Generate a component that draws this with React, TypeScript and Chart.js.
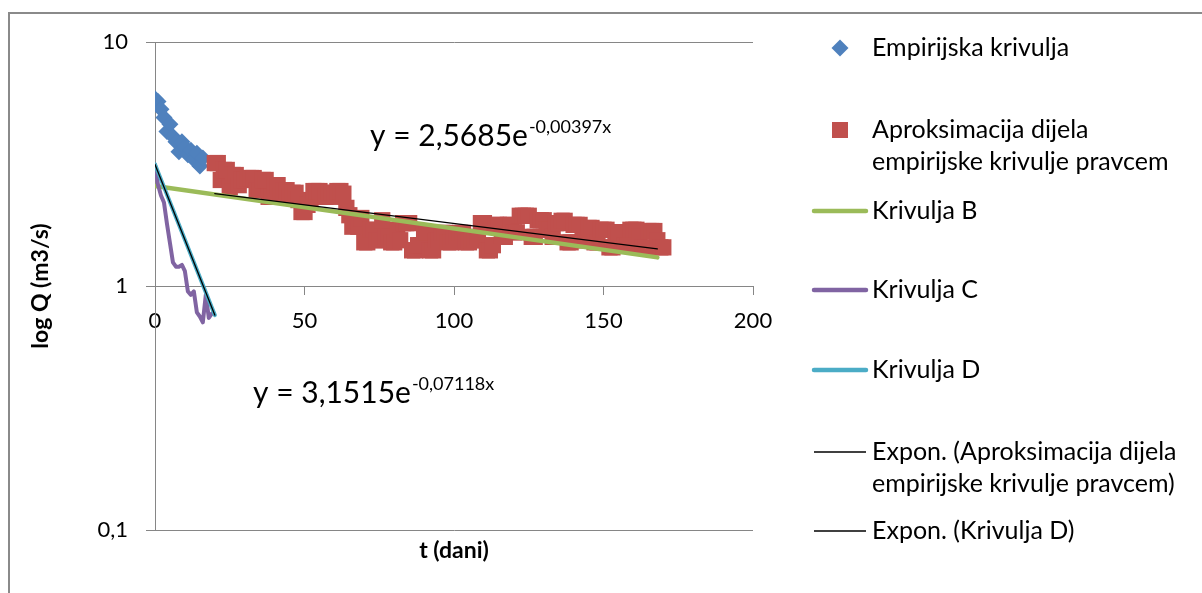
import React, { useEffect, useRef } from "react";
import { Chart, registerables } from "chart.js";

Chart.register(...registerables);

const FONT = "Lato, 'Open Sans', sans-serif";

// ---- data ----
const EMP_T = [0, 1, 2, 3, 4, 5, 6, 7, 8, 9, 10, 11, 12, 13, 14, 15, 16];
const EMP_Q = [5.85, 5.7, 5.3, 4.9, 4.3, 4.6, 4.1, 3.9, 3.55, 3.9, 3.7, 3.45, 3.6, 3.3, 3.5, 3.1, 3.35];

const RED_START = 20;
const RED_Q = [
  3.19, 3.19, 2.72, 2.99, 2.99, 2.54, 2.85, 2.85, 2.59, 2.72, 2.72,
  2.77, 2.77, 2.77, 2.47, 2.47, 2.72, 2.72, 2.32, 2.32, 2.59, 2.59, 2.32, 2.47, 2.47, 2.32,
  2.41, 2.41, 2.25, 2.01, 2.01, 2.15, 2.25,
  2.45, 2.45, 2.45, 2.32, 2.32, 2.41, 2.41, 2.32, 2.45, 2.45, 2.39,
  2.09, 1.95, 1.75, 1.86, 1.75,
  1.9, 1.51, 1.51, 1.7, 1.7, 1.54, 1.54, 1.86, 1.6, 1.6, 1.51, 1.51, 1.7, 1.54,
  1.81, 1.81, 1.81, 1.4, 1.4, 1.47, 1.47, 1.66, 1.66, 1.4, 1.4, 1.54, 1.54,
  1.65, 1.65, 1.51, 1.51, 1.59, 1.59, 1.65, 1.65, 1.51, 1.51, 1.54, 1.54, 1.59,
  1.81, 1.81, 1.4, 1.4, 1.47, 1.78, 1.78,
  1.59, 1.59, 1.78, 1.78, 1.66, 1.66, 1.94, 1.94, 1.94, 1.94, 1.59, 1.59, 1.86, 1.86, 1.86, 1.7, 1.7, 1.59, 1.81, 1.81,
  1.85, 1.85, 1.51, 1.51, 1.78, 1.78, 1.78, 1.54, 1.54, 1.73, 1.73, 1.51, 1.51,
  1.7, 1.7, 1.7, 1.44, 1.44, 1.66, 1.66, 1.66, 1.47, 1.47, 1.7, 1.7, 1.7, 1.59, 1.44, 1.44, 1.68, 1.68, 1.68,
  1.54, 1.44, 1.44,
];

const B_T = [0, 168];
const B_Q = [2.57, 1.31];

const C_T = [0, 1, 2, 3, 4, 5, 6, 7, 8, 9, 10, 11, 12, 13, 14, 15, 16, 17, 18, 19];
const C_Q = [3.15, 2.6, 2.35, 2.2, 1.8, 1.5, 1.25, 1.2, 1.2, 1.22, 1.15, 0.95, 0.92, 0.95, 0.78, 0.75, 0.71, 0.92, 0.74, 0.77];

const D_T = [0, 20];
const D_Q = [3.15, 0.76];

const TREND_RED_T = [20, 168];
const TREND_RED_Q = [2.39, 1.42];

const TREND_D_T = [0, 20];
const TREND_D_Q = [3.15, 0.76];

const X_TICKS = [0, 50, 100, 150, 200];
const Y_TICK_VALUES = [0.1, 1, 10];
const Y_TICK_LABELS = ["0,1", "1", "10"];

const X_TITLE = "t (dani)";
const Y_TITLE = "log Q (m3/s)";
const EQ1 = ["y = 2,5685e", "-0,00397x"];
const EQ2 = ["y = 3,1515e", "-0,07118x"];

const LEGEND_LABELS = [
  ["Empirijska krivulja"],
  ["Aproksimacija dijela", "empirijske krivulje pravcem"],
  ["Krivulja B"],
  ["Krivulja C"],
  ["Krivulja D"],
  ["Expon. (Aproksimacija dijela", "empirijske krivulje pravcem)"],
  ["Expon. (Krivulja D)"],
];

// ---- styles ----
const BLUE = "#4F81BD";
const RED = "#C0504D";
const GREEN = "#9BBB59";
const PURPLE = "#8064A2";
const CYAN = "#4BACC6";
const GRID = "#868686";
const TEXT = "#000000";

const pts = (ts: number[], qs: number[]) => ts.map((t, i) => ({ x: t, y: qs[i] }));
const redPts = () => RED_Q.map((q, i) => ({ x: RED_START + i, y: q }));

const overlayPlugin = {
  id: "overlay",
  beforeDraw(chart: any) {
    const ctx = chart.ctx;
    ctx.save();
    ctx.strokeStyle = "#8a8a8a";
    ctx.lineWidth = 2;
    ctx.beginPath();
    ctx.moveTo(9, 600);
    ctx.lineTo(9, 13);
    ctx.lineTo(1210, 13);
    ctx.stroke();
    ctx.restore();
  },
  afterDraw(chart: any) {
    const ctx = chart.ctx;
    const ca = chart.chartArea;
    ctx.save();
    ctx.fillStyle = TEXT;
    // axis titles
    ctx.font = `bold 23px ${FONT}`;
    ctx.textAlign = "center";
    ctx.textBaseline = "middle";
    ctx.fillText(X_TITLE, (ca.left + ca.right) / 2, 551);
    ctx.save();
    ctx.translate(41, (ca.top + ca.bottom) / 2);
    ctx.rotate(-Math.PI / 2);
    ctx.fillText(Y_TITLE, 0, 0);
    ctx.restore();

    // equations
    const drawEq = (eq: string[], x: number, base: number) => {
      ctx.textAlign = "left";
      ctx.textBaseline = "alphabetic";
      ctx.font = `30px ${FONT}`;
      ctx.fillText(eq[0], x, base);
      const w = ctx.measureText(eq[0]).width;
      ctx.font = `18px ${FONT}`;
      ctx.fillText(eq[1], x + w + 1, base - 13);
    };
    drawEq(EQ1, 370, 146);
    drawEq(EQ2, 253, 403);

    // legend
    ctx.font = `25px ${FONT}`;
    ctx.textAlign = "left";
    ctx.textBaseline = "middle";
    const rows = [[48], [130, 162], [211], [290], [370], [452, 484], [531]];
    const tx = 872;
    rows.forEach((ys, i) => {
      const y0 = ys[0];
      if (i === 0) {
        ctx.fillStyle = BLUE;
        ctx.beginPath();
        ctx.moveTo(840 - 8.5, y0);
        ctx.lineTo(840, y0 - 8.5);
        ctx.lineTo(840 + 8.5, y0);
        ctx.lineTo(840, y0 + 8.5);
        ctx.closePath();
        ctx.fill();
      } else if (i === 1) {
        ctx.fillStyle = RED;
        ctx.fillRect(832, y0 - 8, 16, 16);
      } else {
        const col = [GREEN, PURPLE, CYAN, "#000", "#000"][i - 2];
        const lw = i <= 4 ? 4.5 : 1.3;
        ctx.strokeStyle = col;
        ctx.lineWidth = lw;
        ctx.lineCap = i <= 4 ? "round" : "butt";
        ctx.beginPath();
        ctx.moveTo(814, y0);
        ctx.lineTo(866, y0);
        ctx.stroke();
      }
      ctx.fillStyle = TEXT;
      LEGEND_LABELS[i].forEach((line, j) => ctx.fillText(line, tx, ys[j]));
    });
    ctx.restore();
  },
};

export default function App() {
  const ref = useRef<HTMLCanvasElement | null>(null);
  useEffect(() => {
    if (!ref.current) return;
    const lineDs = (label: string, data: any[], color: string, width: number, order: number) => ({
      label,
      data,
      showLine: true,
      borderColor: color,
      backgroundColor: color,
      borderWidth: width,
      pointRadius: 0,
      pointHoverRadius: 0,
      borderCapStyle: "round",
      borderJoinStyle: "round",
      order,
    });
    const chart = new Chart(ref.current, {
      type: "scatter",
      data: {
        datasets: [
          {
            label: LEGEND_LABELS[0][0],
            data: pts(EMP_T, EMP_Q),
            showLine: false,
            pointStyle: "rectRot",
            pointRadius: 8.5,
            pointBorderWidth: 0,
            backgroundColor: BLUE,
            borderColor: BLUE,
            order: 7,
          },
          {
            label: LEGEND_LABELS[1].join(" "),
            data: redPts(),
            showLine: false,
            pointStyle: "rect",
            pointRadius: 11.5,
            pointBorderWidth: 0,
            backgroundColor: RED,
            borderColor: RED,
            order: 6,
          },
          lineDs("Krivulja B", pts(B_T, B_Q), GREEN, 4.5, 5),
          lineDs("Krivulja C", pts(C_T, C_Q), PURPLE, 4, 4),
          lineDs("Krivulja D", pts(D_T, D_Q), CYAN, 4, 3),
          lineDs(LEGEND_LABELS[5].join(" "), pts(TREND_RED_T, TREND_RED_Q), "#000", 1.3, 2),
          lineDs(LEGEND_LABELS[6][0], pts(TREND_D_T, TREND_D_Q), "#000", 1.3, 1),
        ] as any,
      },
      options: {
        responsive: false,
        animation: false,
        devicePixelRatio: 1,
        layout: { padding: { left: 0, top: 42, right: 449, bottom: 63 } },
        plugins: { legend: { display: false }, tooltip: { enabled: false } },
        events: [],
        scales: {
          x: {
            type: "linear",
            min: 0,
            max: 200,
            position: { y: 1 } as any,
            afterBuildTicks: (s: any) => {
              s.ticks = X_TICKS.map((v) => ({ value: v }));
            },
            afterFit: (s: any) => {
              s.height = 0;
            },
            grid: { drawOnChartArea: false, drawTicks: true, tickLength: 8, color: GRID, lineWidth: 1 },
            border: { display: true, color: GRID, width: 1 },
            ticks: { font: { family: FONT, size: 22 }, color: TEXT, padding: 14, maxRotation: 0, autoSkip: false },
          },
          y: {
            type: "logarithmic",
            min: 0.1,
            max: 10,
            position: "left",
            afterBuildTicks: (s: any) => {
              s.ticks = Y_TICK_VALUES.map((v) => ({ value: v, major: true }));
            },
            afterFit: (s: any) => {
              s.width = 155;
            },
            grid: { color: GRID, lineWidth: 1, tickLength: 9, drawTicks: true },
            border: { display: true, color: GRID, width: 1 },
            ticks: {
              font: { family: FONT, size: 22 },
              color: TEXT,
              padding: 18,
              autoSkip: false,
              callback: (v: any) => Y_TICK_LABELS[Y_TICK_VALUES.indexOf(Number(v))] ?? "",
            },
          },
        },
      } as any,
      plugins: [overlayPlugin],
    });
    return () => chart.destroy();
  }, []);
  return (
    <div style={{ position: "absolute", left: 0, top: 0, width: 1202, height: 593, background: "#fff" }}>
      <canvas ref={ref} width={1202} height={593} style={{ display: "block", width: 1202, height: 593 }} />
    </div>
  );
}
